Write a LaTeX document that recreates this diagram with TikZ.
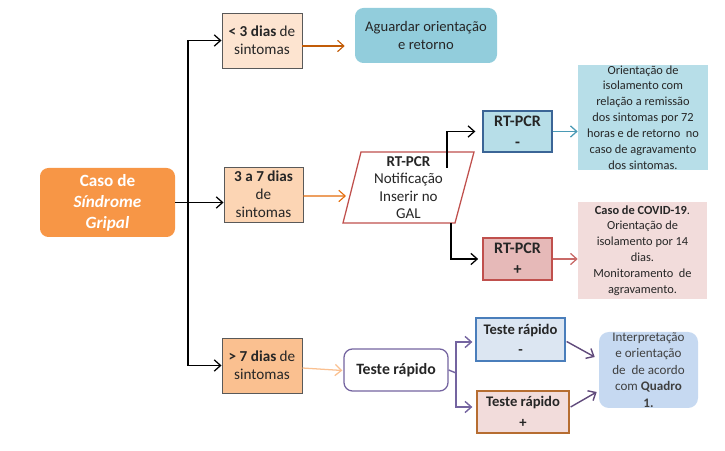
\documentclass[tikz,border=0pt]{standalone}
\usepackage{fontspec}
\setmainfont{Carlito}
\usepackage{tikz}
\usetikzlibrary{arrows.meta,calc}

\definecolor{casoorange}{HTML}{F79646}
\definecolor{peachlight}{HTML}{FDE4D0}
\definecolor{peach}{HTML}{FCD5B4}
\definecolor{peachdark}{HTML}{FAC090}
\definecolor{aguardarblue}{HTML}{92CDDC}
\definecolor{lightblue}{HTML}{B7DEE8}
\definecolor{steelblue}{HTML}{4A7EBB}
\definecolor{rosefill}{HTML}{E6B9B8}
\definecolor{rosered}{HTML}{C0504D}
\definecolor{rosepale}{HTML}{F2DCDB}
\definecolor{paleblue}{HTML}{DCE6F2}
\definecolor{interpblue}{HTML}{C6D9F1}
\definecolor{brownline}{HTML}{B66D31}
\definecolor{purpleline}{HTML}{7464A0}
\definecolor{purpledark}{HTML}{604A7B}
\definecolor{arroworange}{HTML}{E46C0A}
\definecolor{arrowblue}{HTML}{4A9AB5}
\definecolor{textgray}{HTML}{262626}

\begin{document}
\begin{tikzpicture}[x=0.025cm,y=-0.025cm,
  >={Straight Barb[length=4.5pt,width=8pt]},
  every node/.style={inner sep=0pt,align=center,text=textgray},
  boxwd/.style={minimum width=#1*0.025cm},
  boxht/.style={minimum height=#1*0.025cm},
  box/.style={draw=black!65,line width=0.7pt,boxwd=#1,boxht=55},
  arr/.style={->,line width=0.9pt,black},
  oarr/.style={->,line width=0.8pt,arroworange},
  parr/.style={->,line width=1pt,purpleline},
  small/.style={font=\fontsize{8.8}{11.3}\selectfont},
  mid/.style={font=\fontsize{10.8}{12.8}\selectfont}]
\useasboundingbox (0,0) rectangle (725,451);

\node (caso) [fill=casoorange,rounded corners=6pt,boxwd=135,boxht=69,
  text=white,font=\fontsize{12.2}{14.9}\selectfont\bfseries] at (107.5,202.5)
  {Caso de\\\textit{Síndrome}\\\textit{Gripal}};

\node (d3) [box=80,fill=peachlight,mid] at (262,40.5)
  {\textbf{< 3 dias} de\\sintomas};
\node (d37) [box=79,fill=peach,mid] at (263.5,194.5)
  {\textbf{3 a 7 dias}\\de\\sintomas};
\node (d7) [box=80,fill=peachdark,mid] at (262,365.5)
  {\textbf{> 7 dias} de\\sintomas};

\node (aguardar) [fill=aguardarblue,rounded corners=6pt,boxwd=142,boxht=55,
  font=\fontsize{10.4}{12.8}\selectfont] at (426,35.5) {Aguardar orientação\\e retorno};

\draw [rosered,line width=0.9pt,fill=white] (343,223) -- (361,152) -- (474,152) -- (455,223) -- cycle;
\node (para) [font=\fontsize{10.7}{12.5}\selectfont] at (408.5,187.5)
  {\textbf{RT-PCR}\\Notificação\\Inserir no\\GAL};
\coordinate (paraL) at (346,196);
\coordinate (paraT) at (447,168);
\coordinate (paraB) at (451,223);

\node (rtneg) [draw=steelblue!80!black,line width=0.9pt,fill=lightblue,boxwd=69,boxht=41,
  font=\fontsize{11.4}{15}\selectfont\bfseries] at (517.5,131.5) {RT-PCR\\-};
\node (rtpos) [draw=rosered,line width=0.9pt,fill=rosefill,boxwd=69,boxht=42,
  font=\fontsize{11.4}{15}\selectfont\bfseries] at (517.5,259) {RT-PCR\\+};

\node (orient) [fill=lightblue,boxwd=130,boxht=99,small] at (643,117.5)
  {Orientação de\\isolamento com\\relação a remissão\\dos sintomas por 72\\horas e de retorno~ no\\caso de agravamento\\dos sintomas.};
\node (covid) [fill=rosepale,boxwd=129,boxht=97,small] at (642.5,250.5)
  {\textbf{Caso de COVID-19}.\\Orientação de\\isolamento por 14\\dias.\\Monitoramento~ de\\agravamento.};

\node (teste) [draw=purpleline,line width=0.9pt,fill=white,rounded corners=6pt,boxwd=104,boxht=42,
  font=\fontsize{11.2}{13}\selectfont\bfseries] at (396,370) {Teste rápido};
\coordinate (tfork) at (456,373);

\node (tneg) [draw=steelblue,line width=0.9pt,fill=paleblue,boxwd=89,boxht=43,
  font=\fontsize{10.4}{14.5}\selectfont\bfseries] at (520.5,339.5) {Teste rápido\\-};
\node (tpos) [draw=brownline,line width=0.9pt,fill=rosepale,boxwd=92,boxht=42,
  font=\fontsize{10.4}{14.5}\selectfont\bfseries] at (523,412) {Teste rápido\\+};

\node (interp) [fill=interpblue,rounded corners=7pt,boxwd=99,boxht=76,
  font=\fontsize{9.3}{11.8}\selectfont,text=black!75] at (648.5,370)
  {Interpretação\\e orientação\\de~ de acordo\\com \textbf{Quadro}\\\textbf{1.}};

\coordinate (fork) at (188,202);
\draw [<->,line width=0.9pt] (d3.west) -| (fork) |- (d7.west);
\draw [arr] (caso.east) -- (caso.east -| d37.west);

\draw [oarr,arroworange!85!black] ($(d3.east)+(0,5.5)$) -- ($(aguardar.west)+(-10,10.5)$);
\draw [oarr] ($(d37.east)+(0,1.5)$) -- (paraL);
\draw [->,line width=0.9pt,peachdark] ($(d7.east)+(0,2.5)$) -- ($(teste.west)+(-1,0.5)$);

\draw [arr] (paraT) |- ([xshift=-5pt]rtneg.west);
\draw [arr] (paraB) |- ([xshift=-3pt]rtpos.west);
\draw [->,line width=0.9pt,arrowblue] (rtneg.east) -- (rtneg.east -| orient.west);
\draw [->,line width=0.9pt,rosered!85] (rtpos.east) -- (rtpos.east -| covid.west);

\draw [line width=1pt,purpleline] (teste.east) -- (tfork);
\draw [parr] (tfork) |- ($(tneg.west)+(-3,2.5)$);
\draw [parr] (tfork) |- ($(tpos.west)+(-4,-5)$);
\draw [parr,purpledark] ($(tneg.east)+(1,2)$) -- ($(interp.west)+(-4,-13)$);
\draw [parr,purpledark] ($(tpos.east)+(1,-5)$) -- ($(interp.west)+(-2,22)$);
\end{tikzpicture}
\end{document}
